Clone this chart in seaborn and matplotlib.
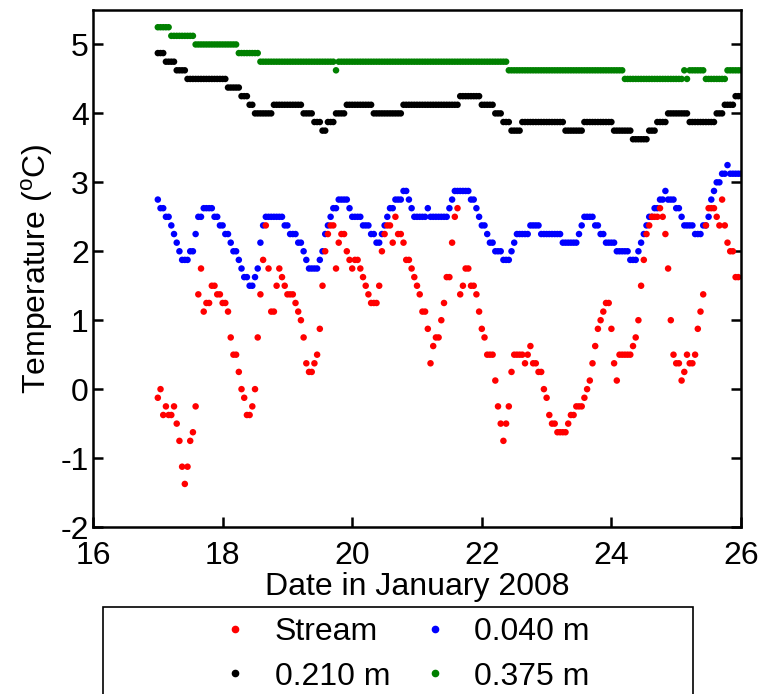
import numpy as np
import pandas as pd
import seaborn as sns
import matplotlib.pyplot as plt
from matplotlib.lines import Line2D
from matplotlib.patches import Rectangle

# hourly readings from 17 Jan 00:00, logger steps of 1/8 degC (values in eighths)
stream_8ths = [
    -1, 0, -3, -2, -3, -3, -2, -4, -6, -9, -11, -9, -6, -5, -2, 11, 14, 9, 10, 10, 12, 12, 11, 11,
    10, 10, 9, 6, 4, 4, 2, 0, -1, -3, -3, -2, 0, 6, 11, 15, 19, 14, 9, 9, 12, 14, 13, 12,
    11, 11, 11, 10, 9, 8, 6, 3, 2, 2, 3, 4, 7, 12, 16, 18, 19, 19, 14, 17, 18, 18, 16, 15,
    14, 15, 15, 14, 13, 12, 11, 10, 10, 10, 12, 16, 18, 19, 19, 17, 20, 18, 18, 17, 15, 15, 14, 13,
    12, 11, 9, 9, 7, 3, 5, 6, 6, 8, 10, 13, 13, 17, 20, 21, 11, 12, 14, 14, 12, 12, 11, 9,
    7, 6, 4, 4, 4, 1, -2, -4, -6, -4, -2, 2, 4, 4, 4, 4, 3, 4, 5, 3, 3, 2, 2, 0,
    -1, -3, -4, -4, -5, -5, -5, -5, -4, -3, -3, -2, -2, -2, -1, 0, 1, 3, 5, 7, 8, 9, 10, 10,
    7, 3, 1, 4, 4, 4, 4, 4, 5, 6, 8, 12, 15, 18, 19, 20, 20, 20, 21, 20, 18, 14, 8, 4,
    3, 3, 1, 2, 4, 3, 3, 4, 7, 9, 11, 19, 21, 21, 21, 20, 19, 22, 19, 17, 16, 16, 13, 13,
]
d040_8ths = [
    22, 21, 21, 20, 20, 19, 18, 17, 16, 15, 15, 15, 16, 16, 18, 20, 20, 21, 21, 21, 21, 20, 20, 19,
    19, 18, 18, 17, 16, 16, 15, 14, 13, 13, 12, 12, 13, 14, 17, 19, 20, 20, 20, 20, 20, 20, 20, 19,
    19, 18, 18, 18, 17, 17, 16, 15, 14, 14, 14, 14, 15, 16, 18, 19, 20, 21, 21, 22, 22, 22, 22, 21,
    20, 20, 20, 20, 19, 19, 19, 18, 18, 17, 17, 18, 19, 20, 21, 21, 22, 22, 22, 23, 23, 22, 21, 20,
    20, 20, 20, 20, 21, 20, 20, 20, 20, 20, 20, 20, 21, 22, 23, 23, 23, 23, 23, 23, 22, 22, 21, 20,
    19, 19, 18, 17, 17, 16, 16, 16, 15, 15, 15, 16, 17, 18, 18, 18, 18, 18, 19, 19, 19, 19, 18, 18,
    18, 18, 18, 18, 18, 18, 17, 17, 17, 17, 17, 17, 18, 19, 20, 20, 20, 20, 19, 19, 18, 18, 17, 17,
    17, 17, 16, 16, 16, 16, 16, 15, 15, 15, 16, 17, 18, 19, 20, 20, 21, 21, 22, 22, 23, 22, 22, 22,
    21, 21, 20, 19, 19, 19, 19, 18, 18, 18, 19, 19, 20, 22, 23, 24, 24, 25, 25, 26, 25, 25, 25, 25,
    25,
]
d210_8ths = [
    39, 39, 39, 38, 38, 38, 38, 37, 37, 37, 37, 36, 36, 36, 36, 36, 36, 36, 36, 36, 36, 36, 36, 36,
    36, 36, 35, 35, 35, 35, 35, 34, 34, 34, 33, 33, 32, 32, 32, 32, 32, 32, 32, 33, 33, 33, 33, 33,
    33, 33, 33, 33, 33, 33, 32, 32, 32, 32, 31, 31, 31, 30, 30, 31, 31, 31, 32, 32, 32, 32, 33, 33,
    33, 33, 33, 33, 33, 33, 33, 33, 32, 32, 32, 32, 32, 32, 32, 32, 32, 32, 32, 33, 33, 33, 33, 33,
    33, 33, 33, 33, 33, 33, 33, 33, 33, 33, 33, 33, 33, 33, 33, 33, 34, 34, 34, 34, 34, 34, 34, 34,
    33, 33, 33, 33, 33, 32, 32, 32, 31, 31, 31, 30, 30, 30, 30, 31, 31, 31, 31, 31, 31, 31, 31, 31,
    31, 31, 31, 31, 31, 31, 31, 30, 30, 30, 30, 30, 30, 30, 31, 31, 31, 31, 31, 31, 31, 31, 31, 31,
    31, 30, 30, 30, 30, 30, 30, 30, 29, 29, 29, 29, 29, 29, 30, 30, 30, 31, 31, 31, 31, 32, 32, 32,
    32, 32, 32, 32, 32, 31, 31, 31, 31, 31, 31, 31, 31, 31, 31, 32, 32, 32, 33, 33, 33, 33, 34, 34,
    34,
]
d375_8ths = [
    42, 42, 42, 42, 42, 41, 41, 41, 41, 41, 41, 41, 41, 41, 40, 40, 40, 40, 40, 40, 40, 40, 40, 40,
    40, 40, 40, 40, 40, 40, 39, 39, 39, 39, 39, 39, 39, 39, 38, 38, 38, 38, 38, 38, 38, 38, 38, 38,
    38, 38, 38, 38, 38, 38, 38, 38, 38, 38, 38, 38, 38, 38, 38, 38, 38, 38, 37, 38, 38, 38, 38, 38,
    38, 38, 38, 38, 38, 38, 38, 38, 38, 38, 38, 38, 38, 38, 38, 38, 38, 38, 38, 38, 38, 38, 38, 38,
    38, 38, 38, 38, 38, 38, 38, 38, 38, 38, 38, 38, 38, 38, 38, 38, 38, 38, 38, 38, 38, 38, 38, 38,
    38, 38, 38, 38, 38, 38, 38, 38, 38, 38, 37, 37, 37, 37, 37, 37, 37, 37, 37, 37, 37, 37, 37, 37,
    37, 37, 37, 37, 37, 37, 37, 37, 37, 37, 37, 37, 37, 37, 37, 37, 37, 37, 37, 37, 37, 37, 37, 37,
    37, 37, 37, 37, 37, 36, 36, 36, 36, 36, 36, 36, 36, 36, 36, 36, 36, 36, 36, 36, 36, 36, 36, 36,
    36, 36, 36, 37, 36, 37, 37, 37, 37, 37, 37, 36, 36, 36, 36, 36, 36, 36, 36, 37, 37, 37, 37, 37,
    37,
]

labels = ["Stream", "0.040 m", "0.210 m", "0.375 m"]
colors = ["#ff0000", "#0000ff", "#000000", "#008000"]
start_day = 17

frames = []
for name, vals in zip(labels, [stream_8ths, d040_8ths, d210_8ths, d375_8ths]):
    v = np.array(vals) / 8.0
    frames.append(pd.DataFrame({"date": start_day + np.arange(len(v)) / 24.0,
                                "temp": v, "series": name}))
# deepest first so the stream ends up on top
df = pd.concat(frames[::-1], ignore_index=True)

sns.set_style("white")
plt.rcParams["font.family"] = ["Liberation Sans", "DejaVu Sans"]
plt.rcParams["mathtext.fontset"] = "custom"
plt.rcParams["mathtext.rm"] = "Liberation Sans"
plt.rcParams["axes.unicode_minus"] = False
plt.rcParams["text.color"] = "black"
plt.rcParams["axes.labelcolor"] = "black"
plt.rcParams["xtick.color"] = "black"
plt.rcParams["ytick.color"] = "black"

fs = 23
fig = plt.figure(figsize=(7.6, 6.94), dpi=100)
ax = fig.add_axes([0.1224, 0.2406, 0.8526, 0.745])

pal = dict(zip(labels, colors))
sns.scatterplot(data=df, x="date", y="temp", hue="series", palette=pal,
                s=22, linewidth=0, legend=False, ax=ax)

ax.set_xlim(16, 26)
ax.set_ylim(-2, 5.5)
ax.set_xticks([16, 18, 20, 22, 24, 26])
ax.set_yticks([-2, -1, 0, 1, 2, 3, 4, 5])
ax.tick_params(direction="in", length=7.5, width=1.8, labelsize=fs, colors="black",
               left=True, right=True, bottom=True, top=False, pad=3)
ax.tick_params(axis="x", pad=10)
for sp in ax.spines.values():
    sp.set_linewidth(1.8)
    sp.set_color("black")

ax.set_xlabel("Date in January 2008", fontsize=fs, labelpad=1, color="black")
ax.set_ylabel("Temperature ($^{\\mathrm{o}}$C)", fontsize=fs, labelpad=4, color="black")

# legend box sits below the axes and runs off the bottom of the figure
fig.add_artist(Rectangle((0.1355, -0.05), 0.776, 0.1754, transform=fig.transFigure,
                         fill=False, edgecolor="black", linewidth=1.2))
handles = [Line2D([], [], marker="o", linestyle="none", color=c, markersize=4.5)
           for c in colors]
# matplotlib fills legend columns first, so reorder to get rows Stream|0.040, 0.210|0.375
order = [0, 2, 1, 3]
fig.legend([handles[i] for i in order], [labels[i] for i in order], ncol=2, loc="center",
           bbox_to_anchor=(0.532, 0.0570), frameon=False, fontsize=fs,
           handlelength=1.0, handletextpad=0.75, columnspacing=0.89,
           labelspacing=0.45, borderpad=0)

fig.savefig("out.png", dpi=100)
